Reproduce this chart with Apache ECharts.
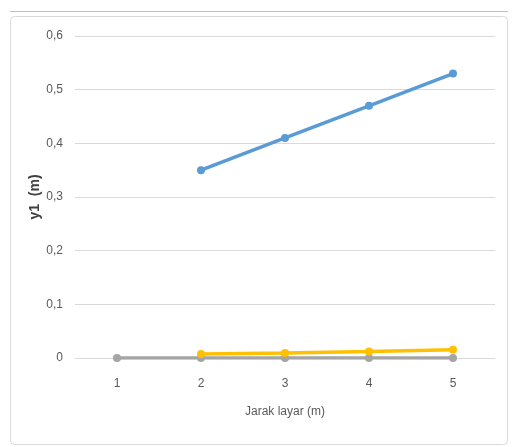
<!DOCTYPE html>
<html>
<head>
<meta charset="utf-8">
<script src="https://cdn.jsdelivr.net/npm/echarts@6/dist/echarts.min.js"></script>
<style>
  html, body { margin: 0; padding: 0; background: #ffffff; }
  #chart { width: 512px; height: 447px; }
</style>
</head>
<body>
<div id="chart"></div>
<script>
// Screen distance (m) on the x axis
const categories = ['1', '2', '3', '4', '5'];
// Measured y values per series (null where no reading)
const seriesBlue = [null, 0.35, 0.41, 0.47, 0.53];
const seriesOrange = [null, 0.0075, 0.0095, 0.012, 0.0155];
const seriesGray = [0, 0, 0, 0, 0];
const yTicks = { min: 0, max: 0.6, interval: 0.1 };
const yTitle = 'y1  (m)';

const font = '"Liberation Sans Narrow", "Liberation Sans", sans-serif';

const chart = echarts.init(document.getElementById('chart'));

function lineSeries(name, data, color) {
  return {
    name: name,
    type: 'line',
    data: data,
    symbol: 'circle',
    symbolSize: 8,
    lineStyle: { color: color, width: 3.5 },
    itemStyle: { color: color },
    connectNulls: false,
    animation: false
  };
}

chart.setOption({
  animation: false,
  graphic: [
    // outer frame of the chart area
    {
      type: 'rect',
      shape: { x: 10.5, y: 16.5, width: 497, height: 428, r: 4 },
      style: { fill: 'none', stroke: '#d9d9d9', lineWidth: 1 }
    },
    {
      type: 'line',
      shape: { x1: 10, y1: 11.5, x2: 508, y2: 11.5 },
      style: { stroke: '#bfbfbf', lineWidth: 1 }
    },
    // vertical axis title
    {
      type: 'text',
      x: 35,
      y: 197,
      rotation: Math.PI / 2,
      style: {
        text: yTitle,
        fill: '#404040',
        font: 'bold 14px ' + font,
        align: 'center',
        verticalAlign: 'middle'
      }
    }
  ],
  grid: { left: 75, right: 17, top: 36, bottom: 89 },
  xAxis: {
    type: 'category',
    data: categories,
    boundaryGap: true,
    name: 'Jarak layar (m)',
    nameLocation: 'middle',
    nameGap: 48,
    nameTextStyle: { color: '#595959', fontSize: 12, fontFamily: font },
    axisLine: { show: true, lineStyle: { color: '#d9d9d9', width: 1 } },
    axisTick: { show: false },
    axisLabel: { color: '#595959', fontSize: 12, fontFamily: font, margin: 20 }
  },
  yAxis: {
    type: 'value',
    min: yTicks.min,
    max: yTicks.max,
    interval: yTicks.interval,
    axisLine: { show: false },
    axisTick: { show: false },
    splitLine: { lineStyle: { color: '#d9d9d9', width: 1 } },
    axisLabel: {
      color: '#595959', fontSize: 12, fontFamily: font, margin: 12,
      formatter: function (v) { return v === 0 ? '0' : v.toFixed(1).replace('.', ','); }
    }
  },
  series: [
    lineSeries('y1', seriesBlue, '#5b9bd5'),
    lineSeries('y2', seriesGray, '#a5a5a5'),
    lineSeries('y3', seriesOrange, '#ffc000')
  ]
});
</script>
</body>
</html>
